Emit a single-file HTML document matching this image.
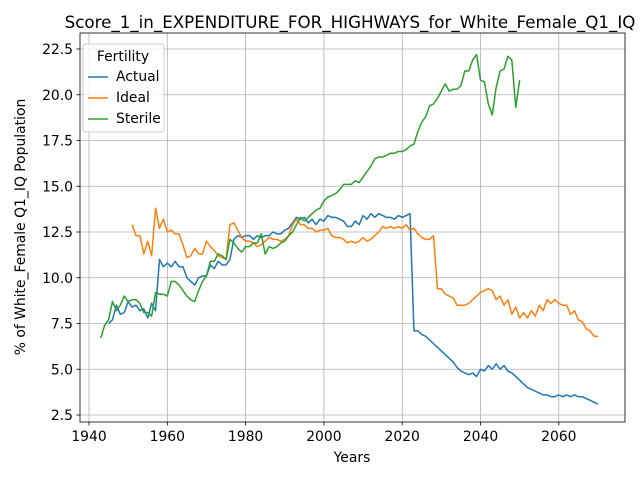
<!DOCTYPE html>
<html><head><meta charset="utf-8"><style>
body{margin:0;background:#fff;font-family:"Liberation Sans","DejaVu Sans",sans-serif}
svg text{font-family:"DejaVu Sans","Liberation Sans",sans-serif}
</style></head><body>
<svg id="chart" width="640" height="480" xmlns="http://www.w3.org/2000/svg">
<rect width="640" height="480" fill="#fff"/>
<text x="350" y="28" font-size="16.7" text-anchor="middle">Score_1_in_EXPENDITURE_FOR_HIGHWAYS_for_White_Female_Q1_IQ</text>
<g id="grid"></g><g id="series"></g>
<rect x="80" y="33" width="545" height="389" fill="none" stroke="#000" stroke-width="0.8"/>
<g id="ticks"></g>
<text x="352" y="462" font-size="13.9" text-anchor="middle">Years</text>
<text transform="translate(25,227) rotate(-90)" font-size="13.9" text-anchor="middle">% of White_Female Q1_IQ Population</text>
<g>
<rect x="83" y="44" width="81" height="88" rx="3" fill="#fff" fill-opacity="0.8" stroke="#ccc"/>
<text x="123" y="61" font-size="13.9" text-anchor="middle">Fertility</text>
<line x1="88" y1="77" x2="108" y2="77" stroke="#1f77b4" stroke-width="1.5"/><text x="116" y="81" font-size="13.9">Actual</text>
<line x1="88" y1="98" x2="108" y2="98" stroke="#ff7f0e" stroke-width="1.5"/><text x="116" y="102" font-size="13.9">Ideal</text>
<line x1="88" y1="119" x2="108" y2="119" stroke="#2ca02c" stroke-width="1.5"/><text x="116" y="123" font-size="13.9">Sterile</text>
</g>
</svg>
<script>
const actualStart=1945;
const actualValues=[7.5,7.7,8.5,8.0,8.1,8.7,8.4,8.5,8.2,8.3,7.8,8.6,8.2,11.0,10.6,10.8,10.6,10.9,10.6,10.6,10.0,9.8,9.6,10.0,10.1,10.1,10.7,10.5,10.9,10.7,10.7,11.0,12.1,12.3,12.2,12.3,12.3,12.1,12.3,12.2,12.3,12.3,12.5,12.4,12.4,12.6,12.7,13.0,13.3,13.2,13.3,13.0,13.2,12.9,13.2,13.1,13.4,13.3,13.3,13.2,13.1,12.8,12.8,13.1,12.9,13.4,13.2,13.5,13.3,13.5,13.4,13.3,13.3,13.2,13.4,13.3,13.4,13.5,7.1,7.1,6.9,6.8,6.6,6.4,6.2,6.0,5.8,5.6,5.4,5.1,4.9,4.8,4.7,4.8,4.6,5.0,4.9,5.2,5.0,5.3,5.0,5.2,4.9,4.8,4.6,4.4,4.2,4.0,3.9,3.8,3.7,3.6,3.6,3.5,3.5,3.6,3.5,3.6,3.5,3.6,3.5,3.5,3.4,3.3,3.2,3.1];
const idealStart=1951;
const idealValues=[12.9,12.3,12.3,11.3,12.0,11.2,13.8,12.7,13.2,12.5,12.6,12.4,12.4,11.8,11.1,11.2,11.6,11.3,11.3,12.0,11.7,11.5,11.2,11.1,11.0,12.9,13.0,12.6,12.2,12.0,12.0,11.9,11.7,11.8,12.0,12.2,12.1,12.1,12.0,12.1,12.3,12.9,13.2,12.9,12.9,12.7,12.7,12.5,12.6,12.6,12.7,12.3,12.2,12.2,12.1,11.9,12.0,11.9,12.0,12.2,12.0,12.1,12.3,12.5,12.8,12.7,12.8,12.7,12.8,12.7,12.9,12.6,12.7,12.4,12.2,12.1,12.1,12.3,9.4,9.4,9.1,9.0,8.9,8.5,8.5,8.5,8.6,8.8,9.0,9.2,9.3,9.4,9.3,8.8,9.0,8.5,8.8,8.0,8.4,7.8,8.1,7.8,8.2,7.9,8.5,8.2,8.8,8.6,8.8,8.6,8.5,8.5,8.0,8.2,7.7,7.6,7.2,7.1,6.8,6.8];
const sterileStart=1943;
const sterileValues=[6.7,7.4,7.7,8.7,8.2,8.5,9.0,8.7,8.8,8.8,8.6,8.1,8.1,7.9,9.2,9.1,9.1,9.0,9.8,9.8,9.6,9.3,9.0,8.8,8.7,9.3,9.8,10.1,10.9,10.9,11.3,11.2,11.0,12.1,11.9,11.6,11.4,11.7,11.7,11.9,11.9,12.4,11.3,11.7,11.6,11.7,11.9,12.0,12.3,12.5,12.9,13.3,13.1,13.3,13.5,13.7,13.8,14.2,14.4,14.5,14.6,14.8,15.1,15.1,15.1,15.3,15.2,15.5,15.8,16.1,16.5,16.6,16.6,16.7,16.8,16.8,16.9,16.9,17.0,17.2,17.3,18.0,18.5,18.8,19.4,19.5,19.8,20.2,20.6,20.2,20.3,20.3,20.5,21.3,21.3,21.9,22.2,20.8,20.7,19.5,18.9,20.4,21.3,21.4,22.1,21.9,19.3,20.8];
const xTicks=[1940,1960,1980,2000,2020,2040,2060];
const yTicks=[2.5,5.0,7.5,10.0,12.5,15.0,17.5,20.0,22.5];
const NS="http://www.w3.org/2000/svg";
const X=v=>89+(v-1940)*3.915;
const Y=v=>415-(v-2.5)*18.3;
const grid=document.getElementById('grid'),ticks=document.getElementById('ticks'),ser=document.getElementById('series');
function mk(tag,attrs,parent){const e=document.createElementNS(NS,tag);for(const k in attrs)e.setAttribute(k,attrs[k]);parent.appendChild(e);return e;}
xTicks.forEach(t=>{const x=X(t);
const g=mk('line',{x1:x,x2:x,y1:33,y2:422,stroke:'#b0b0b0','stroke-width':0.8},grid);


mk('line',{x1:x,x2:x,y1:422,y2:425.5,stroke:'#000','stroke-width':0.8},ticks);
const tx=mk('text',{x:x,y:441,'font-size':13.9,'text-anchor':'middle'},ticks);tx.textContent=t;

});
yTicks.forEach(t=>{const y=Y(t);
const g=mk('line',{x1:80,x2:625,y1:y,y2:y,stroke:'#b0b0b0','stroke-width':0.8},grid);


mk('line',{x1:76.5,x2:80,y1:y,y2:y,stroke:'#000','stroke-width':0.8},ticks);
const tx=mk('text',{x:73,y:y+5,'font-size':13.9,'text-anchor':'end'},ticks);tx.textContent=t.toFixed(1);

});
function line(start,vals,color,name){const d=vals.map((v,i)=>(i?'L':'M')+X(start+i).toFixed(2)+','+Y(v).toFixed(2)).join('');
const p=mk('path',{d:d,fill:'none',stroke:color,'stroke-width':1.5,'stroke-linejoin':'round'},ser);

}
line(actualStart,actualValues,'#1f77b4','actual-line');
line(idealStart,idealValues,'#ff7f0e','ideal-line');
line(sterileStart,sterileValues,'#2ca02c','sterile-line');
</script>
</body></html>
